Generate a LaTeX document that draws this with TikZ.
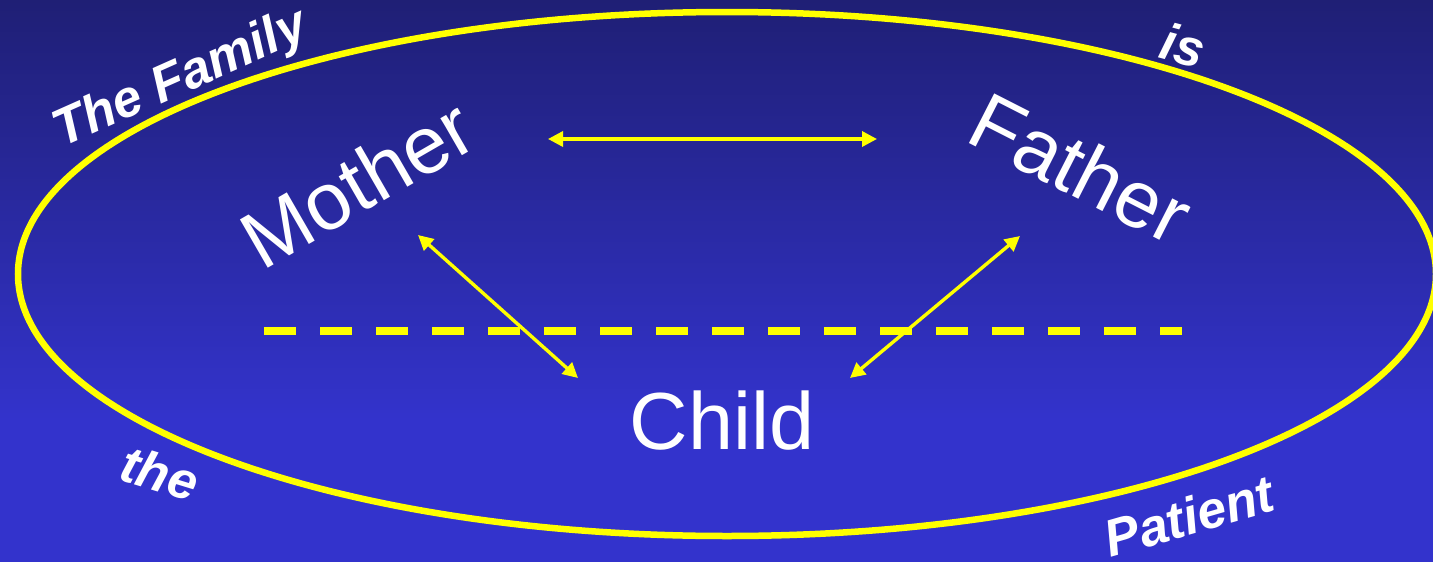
\documentclass[tikz,border=0pt]{standalone}
\usepackage{fontspec}
\setmainfont{Liberation Sans}
\usetikzlibrary{arrows.meta}
\definecolor{bgtop}{RGB}{31,31,117}
\definecolor{bgbot}{RGB}{51,51,204}
\definecolor{ringyellow}{RGB}{255,255,0}
\begin{document}
\begin{tikzpicture}[x=1pt,y=-1pt,
  member/.style={text=white, inner sep=0pt, font=\fontsize{81}{81}\selectfont},
  motto/.style={text=white, inner sep=0pt, font=\fontsize{52}{52}\selectfont\bfseries\itshape},
  link/.style={ringyellow, line width=3.4pt,
    {Triangle[length=15pt,width=15pt]}-{Triangle[length=15pt,width=15pt]}},
  divider/.style={ringyellow, line width=8pt, dash pattern=on 32pt off 24pt},
  ring/.style={ringyellow, line width=6.5pt}]
  \useasboundingbox (0,0) rectangle (1433,562);
  % background: dark navy at the top fading to a flat blue
  \fill[bgbot] (0,0) rectangle (1433,562);
  \shade[top color=bgtop, bottom color=bgbot] (0,0) rectangle (1433,420);

  % the family circle
  \draw[ring] (727,274) ellipse [x radius=709, y radius=262];

  % family members
  \node[member, rotate=30]  (mother) at (357,183) {Mother};
  \node[member, rotate=-27] (father) at (1081,168) {Father};
  \node[member]             (child)  at (722,421) {Child};

  % end points of the relationship arrows
  \coordinate (mf-a) at (548,139);
  \coordinate (mf-b) at (877,139);
  \coordinate (mc-a) at (418,235);
  \coordinate (mc-b) at (578,378);
  \coordinate (fc-a) at (1020,236);
  \coordinate (fc-b) at (850,378);
  \coordinate (dv-a) at (264,331);
  \coordinate (dv-b) at (1182,331);

  % generational boundary
  \draw[divider] (dv-a) -- (dv-b);

  % relationships
  \draw[link] (mf-a) -- (mf-b);
  \draw[link] (mc-a) -- (mc-b);
  \draw[link] (fc-a) -- (fc-b);

  % motto around the circle
  \node[motto, rotate=24]  (motto-1) at (181,80)   {The Family};
  \node[motto, rotate=-15] (motto-2) at (1183,45)  {is};
  \node[motto, rotate=-17] (motto-3) at (160,473)  {the};
  \node[motto, rotate=16]  (motto-4) at (1189,516) {Patient};
\end{tikzpicture}
\end{document}
